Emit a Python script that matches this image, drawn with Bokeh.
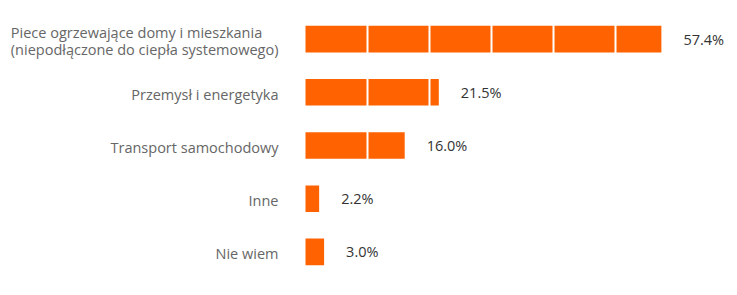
from bokeh.plotting import figure
from bokeh.models import ColumnDataSource, LabelSet, FixedTicker, Range1d, FactorRange
from bokeh.core.properties import value
from bokeh.embed import file_html
from bokeh.resources import INLINE

categories = [
    "Piece ogrzewające domy i mieszkania\n(niepodłączone do ciepła systemowego)",
    "Przemysł i energetyka",
    "Transport samochodowy",
    "Inne",
    "Nie wiem",
]
values = [57.4, 21.5, 16.0, 2.2, 3.0]
value_labels = ["57.4%", "21.5%", "16.0%", "2.2%", "3.0%"]
grid_ticks = [10, 20, 30, 40, 50]

source = ColumnDataSource(data=dict(cat=categories, val=values, lab=value_labels))

W, H = 737, 295
left_px = 305
px_per_unit = 6.2

p = figure(
    width=W, height=H,
    y_range=FactorRange(factors=list(reversed(categories)), range_padding=0),
    x_range=Range1d(-left_px / px_per_unit, (W - left_px) / px_per_unit),
    output_backend="svg", toolbar_location=None,
    min_border_left=0, min_border_right=0, min_border_top=12, min_border_bottom=17,
)
p.axis.visible = False
p.outline_line_color = None
p.ygrid.grid_line_color = None
p.xgrid.ticker = FixedTicker(ticks=grid_ticks)
p.xgrid.grid_line_color = "white"
p.xgrid.grid_line_width = 2
p.xgrid.level = "guide"

p.hbar(y="cat", left=0, right="val", height=0.5, source=source,
       fill_color="#FF6200", line_color=None)

font = value("Open Sans")
vals = LabelSet(x="val", y="cat", text="lab", source=source, x_offset=22,
                text_baseline="middle", text_align="left",
                text_font=font, text_font_size="14.5px", text_color="#333333")
cats = LabelSet(x=0, y="cat", text="cat", source=source, x_offset=-27, y_offset=-2,
                text_baseline="middle", text_align="right",
                text_font=font, text_font_size="14.5px", text_color="#666666",
                text_line_height=0.9)
p.add_layout(vals)
p.add_layout(cats)

open("out.html", "w").write(file_html(p, INLINE))
